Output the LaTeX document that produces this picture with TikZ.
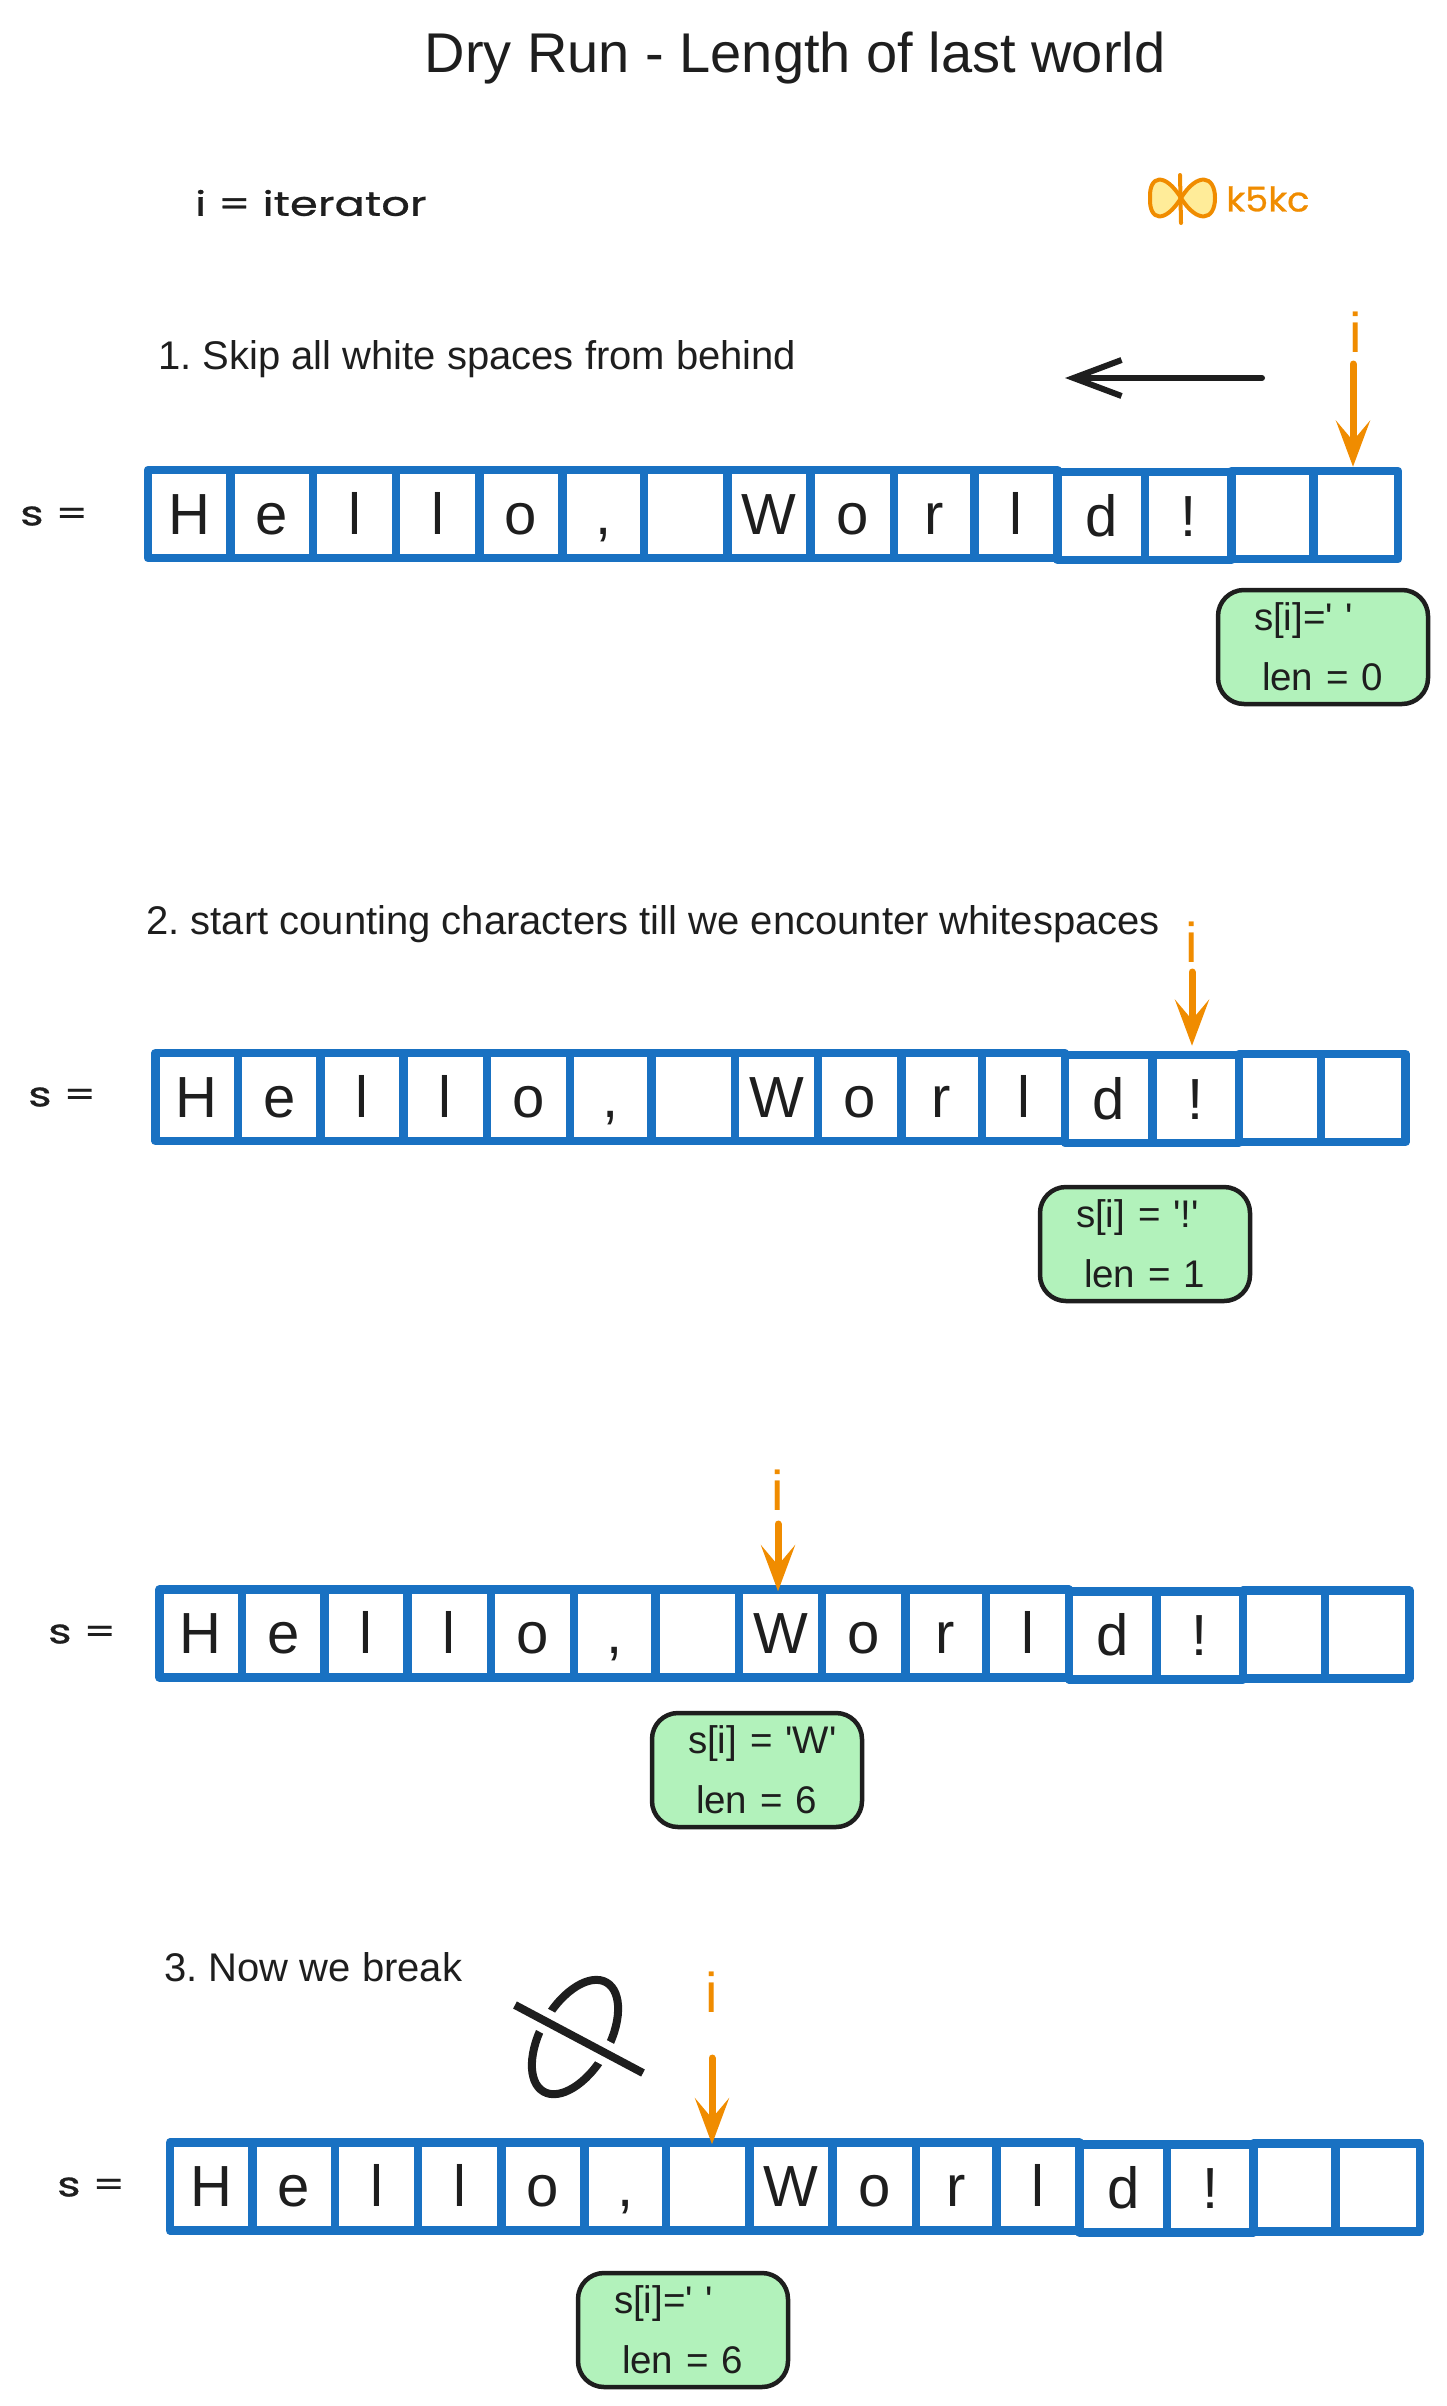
\documentclass[tikz,border=0pt]{standalone}
\usepackage{fontspec}
\setmainfont{Liberation Sans}
\newfontfamily\handfont{Poppins}[FakeStretch=1.32, FakeBold=0.8]
\newfontfamily\logofont{Poppins}[FakeStretch=1.08, FakeBold=0.8]
\usetikzlibrary{arrows.meta}
\definecolor{boxblue}{HTML}{1971C2}
\definecolor{ptrorange}{HTML}{F08C00}
\definecolor{notegreen}{HTML}{B2F2BB}
\definecolor{logoyellow}{HTML}{FFEC99}
\definecolor{inkblack}{HTML}{1E1E1E}
\tikzset{
	cellbox/.style={draw=boxblue, line width=8.5pt, minimum height=88pt, inner sep=0pt, text height=40pt, text depth=0pt, font=\fontsize{58}{58}\selectfont},
	notebox/.style={draw=inkblack, fill=notegreen, line width=4.5pt, rounded corners=26pt, minimum height=114pt, text width=170pt, inner xsep=20pt, align=left, font=\fontsize{38.5}{60}\selectfont},
	steptext/.style={anchor=west, inner sep=0pt, font=\fontsize{40}{40}\selectfont},
	ptrlabel/.style={text=ptrorange, inner sep=0pt, font=\fontsize{56}{56}\selectfont},
	ptrarrow/.style={draw=ptrorange, line width=7pt, -{Stealth[length=46pt, width=34pt, inset=20pt]}},
	handtext/.style={anchor=west, inner sep=0pt, text=inkblack, font=\handfont\fontsize{34}{34}\selectfont}
}
% one row of the string, cells named <row>-1 ... <row>-15
% each entry: character/centre/width/drop
\newcommand{\cellrow}[3]{%
	\foreach \ch/\cx/\cw/\cd [count=\n] in {H/41/82/0, e/123.25/82.5/0, l/205.75/82.5/0, l/288.5/83/0, o/371.5/83/0, {,}/453.5/81/0, {}/535.5/83/0, W/618.5/83/0, o/701.5/83/0, r/783/80/0, l/864.5/83/0, d/949.5/87/2, !/1036/86/2, {}/1120/82/1, {}/1203/84/1}
		\node[cellbox, minimum width={1.004*\cw pt}] (#1-\n) at ({#2+1.004*\cx},{#3+\cd}) {\ch};
}
\newcommand{\qt}{\textquotesingle}
% the two lines inside a green note
\newcommand{\notelines}[2]{\hspace*{16pt}#1\\\hspace*{24pt}#2}
\frenchspacing
\begin{document}
\begin{tikzpicture}[x=1pt, y=-1pt, line join=round, line cap=round, text=inkblack]
	\useasboundingbox (0,0) rectangle (1447,2406);
	\node[inner sep=0pt, font=\fontsize{56}{56}\selectfont] (title) at (795,58) {Dry Run - Length of last world};
	\node[handtext] (legend) at (195,203) {i = iterator};
	% logo
	\draw[draw=ptrorange, fill=logoyellow, line width=4pt] (1181,198) .. controls (1165,172) and (1149,175) .. (1150,198) .. controls (1149,221) and (1165,224) .. (1181,198) .. controls (1197,172) and (1215,175) .. (1215,198) .. controls (1215,221) and (1197,224) .. (1181,198) -- cycle;
	\draw[draw=ptrorange, line width=4pt] (1180,175) -- (1181,223);
	\node[handtext, text=ptrorange, font=\logofont\fontsize{34}{34}\selectfont] (logotext) at (1226,199) {k5kc};

	% step 1
	\node[steptext] (step1) at (158,359) {1. Skip all white spaces from behind};
	\coordinate (backstart) at (1262,378);
	\coordinate (backend) at (1065,378);
	\draw[draw=inkblack, line width=6pt, -{Straight Barb[length=48pt, width=36pt, line width=6pt]}] (backstart) -- (backend);
	\node[handtext] (s1) at (20,516) {s =};
	\cellrow{a}{148}{514}
	\node[ptrlabel] (i1) at (1356,332) {i};
	\coordinate (i1start) at (1353,364);
	\draw[ptrarrow] (i1start) -- (i1start |- a-15.north);
	\node[notebox] (note1) at (1323,647) {\notelines{s[i]=\qt{} \qt}{len = 0}};

	% step 2
	\node[steptext] (step2) at (146,924) {2. start counting characters till we encounter whitespaces};
	\node[handtext] (s2) at (28,1097) {s =};
	\cellrow{b}{155.5}{1097}
	\node[ptrlabel] (i2) at (1192,942) {i};
	\coordinate (i2start) at (1192,972);
	\draw[ptrarrow, shorten >=5pt] (i2start) -- (i2start |- b-13.north);
	\node[notebox] (note2) at (1145,1244) {\notelines{s[i] = \qt!\qt}{len = 1}};

	% still counting
	\node[handtext] (s3) at (48,1634) {s =};
	\cellrow{c}{159.5}{1633.5}
	\node[ptrlabel] (i3) at (778,1490) {i};
	\coordinate (i3start) at (778,1524);
	\draw[ptrarrow, shorten >=-6pt] (i3start) -- (i3start |- c-8.north);
	\node[notebox] (note3) at (757,1770) {\notelines{s[i] = \qt W\qt}{len = 6}};

	% step 3
	\node[steptext] (step3) at (164,1967) {3. Now we break};
	\draw[draw=inkblack, line width=8pt, rotate around={60:(575,2037)}] (575,2037) ellipse [x radius=63, y radius=34];
	\draw[draw=white, line width=24pt, line cap=butt] (515,2005) -- (643,2073);
	\draw[draw=inkblack, line width=8pt, line cap=butt] (515,2005) -- (643,2073);
	\node[handtext] (s4) at (57,2187) {s =};
	\cellrow{d}{170}{2186.5}
	\node[ptrlabel] (i4) at (712,1992) {i};
	\coordinate (i4start) at (712,2058);
	\draw[ptrarrow, shorten >=-6pt] (i4start) -- (i4start |- d-7.north);
	\node[notebox] (note4) at (683,2330) {\notelines{s[i]=\qt{} \qt}{len = 6}};
\end{tikzpicture}
\end{document}
